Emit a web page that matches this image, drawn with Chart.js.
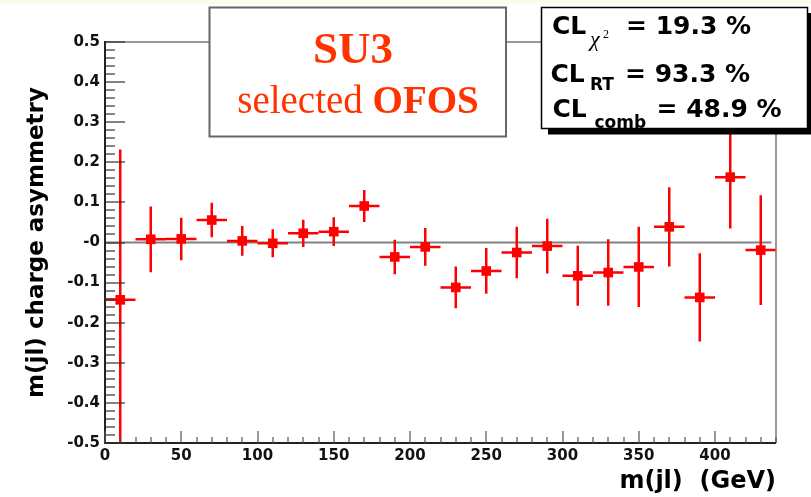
<!DOCTYPE html>
<html>
<head>
<meta charset="utf-8">
<script src="https://cdn.jsdelivr.net/npm/chart.js@4.4.1/dist/chart.umd.min.js"></script>
<style>
  body { margin: 0; background: #fff; }
  canvas { display: block; }
</style>
</head>
<body>
<canvas id="asym" width="811" height="497"></canvas>
<script>
// Datos: asimetria de carga en m(jl), bins de 20 GeV
const massBins = [10, 30, 50, 70, 90, 110, 130, 150, 170, 190, 210, 230, 250, 270, 290, 310, 330, 350, 370, 390, 410, 430];
const asymmetry = [-0.143, 0.008, 0.009, 0.056, 0.004, -0.002, 0.023, 0.027, 0.091, -0.036, -0.011, -0.112, -0.071, -0.025, -0.009, -0.083, -0.075, -0.061, 0.039, -0.137, 0.163, -0.019];
const asymErr = [0.375, 0.082, 0.053, 0.043, 0.037, 0.035, 0.034, 0.036, 0.040, 0.043, 0.047, 0.052, 0.057, 0.064, 0.068, 0.075, 0.083, 0.100, 0.099, 0.110, 0.128, 0.137];
const binHalfWidth = 10;

// ticks menores/mayores (estilo ROOT)
const yMinorStep = 0.02;
const xMinorStep = 10;
const xMajorStep = 50;

const xTitle = 'm(jl)  (GeV)';
const yTitle = 'm(jl) charge asymmetry';
const clLines = [
    { sub: '\u03c7', sup: '2', val: '= 19.3 %' },
    { sub: 'RT', val: '= 93.3 %' },
    { sub: 'comb', val: '= 48.9 %' }
];

const ctxAsym = document.getElementById('asym');
const rootFont = '"DejaVu Sans", "Liberation Sans", sans-serif';
const red = '#ff0000';
const orange = '#ff3300';

// barras de error + linea del cero
const errorBars = {
    id: 'errorBars',
    beforeDatasetsDraw(chart) {
        const { ctx, chartArea, scales: { x, y } } = chart;
        ctx.save();
        ctx.beginPath();
        ctx.rect(chartArea.left, chartArea.top, chartArea.right - chartArea.left, chartArea.bottom - chartArea.top);
        ctx.clip();

        // linea horizontal en cero
        ctx.strokeStyle = '#808080';
        ctx.lineWidth = 2;
        ctx.beginPath();
        ctx.moveTo(x.getPixelForValue(0), y.getPixelForValue(0));
        ctx.lineTo(x.getPixelForValue(437), y.getPixelForValue(0));
        ctx.stroke();

        ctx.strokeStyle = red;
        ctx.lineWidth = 2.5;
        for (let i = 0; i < massBins.length; i++) {
            const px = x.getPixelForValue(massBins[i]);
            const py = y.getPixelForValue(asymmetry[i]);
            ctx.beginPath();
            ctx.moveTo(px, y.getPixelForValue(asymmetry[i] + asymErr[i]));
            ctx.lineTo(px, y.getPixelForValue(asymmetry[i] - asymErr[i]));
            ctx.moveTo(x.getPixelForValue(massBins[i] - binHalfWidth), py);
            ctx.lineTo(x.getPixelForValue(massBins[i] + binHalfWidth), py);
            ctx.stroke();
        }
        ctx.restore();
    }
};

// marco estilo ROOT, ticks hacia dentro y cajas de texto
const rootFrame = {
    id: 'rootFrame',
    afterDraw(chart) {
        const ctx = chart.ctx;
        const a = chart.chartArea;
        const x = chart.scales.x;
        const y = chart.scales.y;
        ctx.save();

        // franja crema arriba
        ctx.fillStyle = '#fdfbe9';
        ctx.fillRect(0, 0, 811, 4);

        // marco
        ctx.fillStyle = '#777';
        ctx.fillRect(a.left, a.top - 0.75, a.right - a.left, 1.5);
        ctx.fillRect(a.right - 0.75, a.top, 1.5, a.bottom - a.top);
        ctx.fillStyle = '#222';
        ctx.fillRect(a.left - 1, a.top - 1, 2, a.bottom - a.top + 2);
        ctx.fillRect(a.left - 1, a.bottom - 1, a.right - a.left + 1, 2);

        // ticks eje y
        ctx.fillStyle = '#333';
        const nY = Math.round((y.max - y.min) / yMinorStep);
        for (let k = 0; k <= nY; k++) {
            const v = y.min + k * yMinorStep;
            const py = Math.round(y.getPixelForValue(v));
            const len = (k % 5 === 0) ? 20 : 10;
            ctx.fillRect(a.left, py - 0.6, len, 1.2);
        }

        // ticks eje x
        ctx.fillStyle = '#555';
        for (let v = x.min; v <= x.max; v += xMinorStep) {
            const px = Math.round(x.getPixelForValue(v));
            const len = (v % xMajorStep === 0) ? 12 : 6;
            ctx.fillRect(px - 0.6, a.bottom - len, 1.2, len);
        }

        // caja SU3
        ctx.fillStyle = '#fff';
        ctx.fillRect(209.5, 7.5, 296.5, 129);
        ctx.strokeStyle = '#666';
        ctx.lineWidth = 2;
        ctx.strokeRect(209.5, 7.5, 296.5, 129);

        ctx.fillStyle = orange;
        ctx.textBaseline = 'alphabetic';
        ctx.textAlign = 'center';
        ctx.font = 'bold 45px "Liberation Serif", serif';
        ctx.fillText('SU3', 353, 63);

        ctx.textAlign = 'left';
        ctx.font = '39px "Liberation Serif", serif';
        const w1 = ctx.measureText('selected ').width;
        ctx.font = 'bold 39px "Liberation Serif", serif';
        const w2 = ctx.measureText('OFOS').width;
        const sx = 358 - (w1 + w2) / 2;
        ctx.font = '39px "Liberation Serif", serif';
        ctx.fillText('selected ', sx, 113);
        ctx.font = 'bold 39px "Liberation Serif", serif';
        ctx.fillText('OFOS', sx + w1, 113);

        // caja CL con sombra
        ctx.fillStyle = '#000';
        ctx.fillRect(548, 128, 263, 6.5);
        ctx.fillRect(806, 13, 5, 121);
        ctx.fillStyle = '#fff';
        ctx.fillRect(541.5, 7.5, 266, 121);
        ctx.strokeStyle = '#000';
        ctx.lineWidth = 1.5;
        ctx.strokeRect(541.5, 7.5, 266, 121);

        ctx.fillStyle = '#000';
        const big = 'bold 25px ' + rootFont;
        const small = 'bold 17px ' + rootFont;
        // linea 1
        ctx.font = big;
        ctx.fillText('CL', 552, 33.5);
        ctx.font = 'italic 22px "Liberation Serif", serif';
        ctx.fillText(clLines[0].sub, 590, 46);
        ctx.font = '12px "Liberation Serif", serif';
        ctx.fillText(clLines[0].sup, 603, 38);
        ctx.font = big;
        ctx.fillText(clLines[0].val, 626, 33.5);
        // linea 2
        ctx.fillText('CL', 550.5, 81.5);
        ctx.font = small;
        ctx.fillText(clLines[1].sub, 590, 90);
        ctx.font = big;
        ctx.fillText(clLines[1].val, 625, 81.5);
        // linea 3
        ctx.fillText('CL', 552.5, 116.5);
        ctx.font = small;
        ctx.fillText(clLines[2].sub, 594.5, 128);
        ctx.font = big;
        ctx.fillText(clLines[2].val, 656.5, 116.5);

        ctx.restore();
    }
};

new Chart(ctxAsym, {
    type: 'scatter',
    data: {
    datasets: [{
        label: 'asymmetry',
        data: massBins.map((m, i) => ({ x: m, y: asymmetry[i] })),
        pointStyle: 'rect',
        pointRadius: 6.8,
        pointBackgroundColor: red,
        pointBorderWidth: 0,
        showLine: false
    }]
    },
    options: {
    responsive: false,
    animation: false,
    devicePixelRatio: 1,
    layout: { padding: { left: 0, right: 35, top: 42, bottom: 0 } },
    plugins: {
        legend: { display: false },
        tooltip: { enabled: false }
    },
    scales: {
        x: {
        type: 'linear',
        position: 'bottom',
        min: 0,
        max: 440,
        afterFit: (s) => { s.height = 54; },
        grid: { display: false, drawTicks: false },
        border: { display: false },
        ticks: {
            stepSize: xMajorStep,
            includeBounds: false,
            autoSkip: false,
            maxRotation: 0,
            padding: 4,
            color: '#111',
            font: { family: rootFont, size: 15, weight: 'bold' }
        },
        title: {
            display: true,
            text: xTitle,
            align: 'end',
            color: '#000',
            padding: { top: 0, bottom: 1 },
            font: { family: rootFont, size: 24, weight: 'bold' }
        }
        },
        y: {
        min: -0.5,
        max: 0.5,
        afterFit: (s) => { s.width = 105; },
        grid: { display: false, drawTicks: false },
        border: { display: false },
        ticks: {
            stepSize: 0.1,
            padding: 5,
            color: '#111',
            font: { family: rootFont, size: 15, weight: 'bold' },
            callback: (v) => Math.abs(v) < 1e-9 ? '-0' : v.toFixed(1)
        },
        title: {
            display: true,
            text: yTitle,
            color: '#000',
            padding: { top: 23, bottom: 0 },
            font: { family: rootFont, size: 23, weight: 'bold' }
        }
        }
    }
    },
    plugins: [errorBars, rootFrame]
});
</script>
</body>
</html>
